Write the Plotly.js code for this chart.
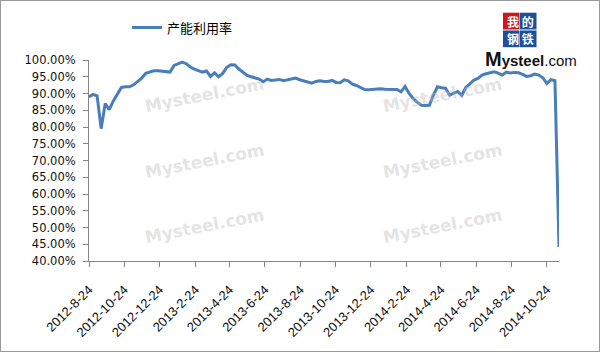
<!DOCTYPE html>
<html>
<head>
<meta charset="utf-8">
<script src="https://cdn.plot.ly/plotly-3.0.1.min.js"></script>
<style>
html,body{margin:0;padding:0;background:#fff;}
#wrap{width:600px;height:352px;box-sizing:border-box;border:1px solid #9a9a9a;}
#chart{width:598px;height:350px;}
</style>
</head>
<body>
<div id="wrap"><div id="chart"></div></div>
<script>
const seriesName = '产能利用率';
const dates = [
'2012-08-24','2012-08-31','2012-09-07','2012-09-14','2012-09-21','2012-09-28','2012-10-05','2012-10-12','2012-10-19','2012-10-26',
'2012-11-02','2012-11-09','2012-11-16','2012-11-23','2012-11-30','2012-12-07','2012-12-14','2012-12-21','2012-12-28','2013-01-04',
'2013-01-11','2013-01-18','2013-01-25','2013-02-01','2013-02-08','2013-02-15','2013-02-22','2013-03-01','2013-03-08','2013-03-15',
'2013-03-22','2013-03-29','2013-04-05','2013-04-12','2013-04-19','2013-04-26','2013-05-03','2013-05-10','2013-05-17','2013-05-24',
'2013-05-31','2013-06-07','2013-06-14','2013-06-21','2013-06-28','2013-07-05','2013-07-12','2013-07-19','2013-07-26','2013-08-02',
'2013-08-09','2013-08-16','2013-08-23','2013-08-30','2013-09-06','2013-09-13','2013-09-20','2013-09-27','2013-10-04','2013-10-11',
'2013-10-18','2013-10-25','2013-11-01','2013-11-08','2013-11-15','2013-11-22','2013-11-29','2013-12-06','2013-12-13','2013-12-20',
'2013-12-27','2014-01-03','2014-01-10','2014-01-17','2014-01-24','2014-01-31','2014-02-07','2014-02-14','2014-02-21','2014-02-28',
'2014-03-07','2014-03-14','2014-03-21','2014-03-28','2014-04-04','2014-04-11','2014-04-18','2014-04-25','2014-05-02','2014-05-09',
'2014-05-16','2014-05-23','2014-05-30','2014-06-06','2014-06-13','2014-06-20','2014-06-27','2014-07-04','2014-07-11','2014-07-18',
'2014-07-25','2014-08-01','2014-08-08','2014-08-15','2014-08-22','2014-08-29','2014-09-05','2014-09-12','2014-09-19','2014-09-26',
'2014-10-03','2014-10-10','2014-10-17','2014-10-24','2014-10-31','2014-11-07','2014-11-14'
];
const utilization = [
89.0, 89.7, 89.3, 79.5, 87.0, 85.2, 87.8, 90.0, 91.8, 92.0,
92.0, 92.6, 93.5, 94.6, 96.0, 96.5, 96.8, 96.8, 96.7, 96.6,
96.4, 98.4, 98.8, 99.4, 98.9, 97.9, 97.3, 96.9, 96.4, 96.7,
95.1, 96.2, 95.0, 96.0, 97.8, 98.6, 98.5, 97.3, 96.2, 95.4,
95.0, 94.6, 94.3, 93.5, 94.3, 93.9, 94.0, 94.2, 93.8, 94.1,
94.5, 94.6, 94.1, 93.7, 93.3, 93.1, 93.6, 93.8, 93.6, 93.6,
93.9, 93.3, 93.2, 94.1, 93.8, 92.8, 92.4, 91.9, 91.2, 91.1,
91.2, 91.4, 91.4, 91.3, 91.3, 91.2, 91.2, 90.5, 92.1, 90.0,
88.5, 87.4, 86.5, 86.4, 86.5, 89.5, 92.0, 91.7, 91.6, 89.5,
90.0, 90.6, 89.4, 91.8, 92.9, 94.0, 94.5, 95.5, 95.9, 96.3,
96.5, 96.1, 95.5, 96.4, 96.1, 96.3, 96.2, 95.7, 95.1, 95.3,
95.8, 95.5, 94.7, 93.0, 94.1, 93.8, 44.2
];
const tickDates = ['2012-08-24','2012-10-24','2012-12-24','2013-02-24','2013-04-24','2013-06-24','2013-08-24',
  '2013-10-24','2013-12-24','2014-02-24','2014-04-24','2014-06-24','2014-08-24','2014-10-24'];
const tickLabels = ['2012-8-24','2012-10-24','2012-12-24','2013-2-24','2013-4-24','2013-6-24','2013-8-24',
  '2013-10-24','2013-12-24','2014-2-24','2014-4-24','2014-6-24','2014-8-24','2014-10-24'];
const yTicks = [40,45,50,55,60,65,70,75,80,85,90,95,100];

// layout geometry (pixels inside the 598x350 chart div)
const W = 598, H = 350, M = {l: 88, r: 40, t: 56, b: 90};
const pw = W - M.l - M.r, ph = H - M.t - M.b;
const px = X => (X - 1 - M.l) / pw;
const py = Y => 1 - (Y - 1 - M.t) / ph;

const annotations = [];
// watermarks
[[204,93],[442,93],[204,159],[442,159],[204,225],[442,225]].forEach(p => {
  annotations.push({xref:'paper', yref:'paper', x:px(p[0]), y:py(p[1]), xanchor:'center', yanchor:'middle',
    text:'<b>Mysteel.com</b>', showarrow:false, textangle:-11,
    font:{family:'DejaVu Sans', size:17, color:'rgba(185,185,185,0.4)'}});
});
// logo: coloured squares as shapes, characters as two single-line texts
const boxes = [[503,9,'#d3141c'],[520,9,'#1d4f9e'],[503,27,'#1d4f9e'],[520,27,'#1d4f9e']];
const shapes = boxes.map(b => ({type:'rect', xref:'paper', yref:'paper',
  x0:px(b[0]), x1:px(b[0]+16.5), y0:py(b[1]+17), y1:py(b[1]), fillcolor:b[2], line:{width:0}}));
[['我 的',17.5],['钢 铁',35.5]].forEach(r => {
  annotations.push({xref:'paper', yref:'paper', x:px(520), y:py(r[1]), xanchor:'center', yanchor:'middle',
    text:'<b>'+r[0]+'</b>', showarrow:false, borderpad:0,
    font:{family:'Noto Sans CJK SC', size:12, color:'#ffffff'}});
});
annotations.push({xref:'paper', yref:'paper', x:px(531), y:py(56), xanchor:'center', yanchor:'middle',
  text:'<span style="font-size:20px"><b>M</b></span><b>ysteel</b>.com', showarrow:false, borderpad:0,
  font:{family:'Liberation Sans', size:15, color:'#111'}});

const trace = {
  x: dates, y: utilization, type:'scatter', mode:'lines', name: seriesName,
  line:{color:'#4a7ebb', width:3}
};

const layout = {
  width: W, height: H,
  margin: M,
  paper_bgcolor:'#fff', plot_bgcolor:'#fff',
  showlegend: true,
  legend: {x: px(127), y: py(24), xanchor:'left', yanchor:'middle', orientation:'h',
    font:{family:'Noto Sans CJK SC', size:13, color:'#000'}, bgcolor:'rgba(0,0,0,0)'},
  xaxis: {
    type:'date', range:['2012-08-24','2014-11-14'],
    tickmode:'array', tickvals: tickDates, ticktext: tickLabels, tickangle:-45,
    showgrid:false, zeroline:false, showline:true, linecolor:'#868686', linewidth:1,
    ticks:'outside', ticklen:5, tickcolor:'#868686', ticklabelstandoff:10,
    tickfont:{family:'Liberation Sans', size:13, color:'#111'}
  },
  yaxis: {
    range:[40,100], tickmode:'array', tickvals: yTicks, ticktext: yTicks.map(v => v.toFixed(2)+'%'),
    showgrid:false, zeroline:false, showline:true, linecolor:'#868686', linewidth:1,
    ticks:'outside', ticklen:5, tickcolor:'#868686', ticklabelstandoff:5,
    tickfont:{family:'DejaVu Sans', size:11.5, color:'#111'}
  },
  shapes: shapes,
  annotations: annotations
};

Plotly.newPlot('chart', [trace], layout, {staticPlot:true, displayModeBar:false});
</script>
</body>
</html>
